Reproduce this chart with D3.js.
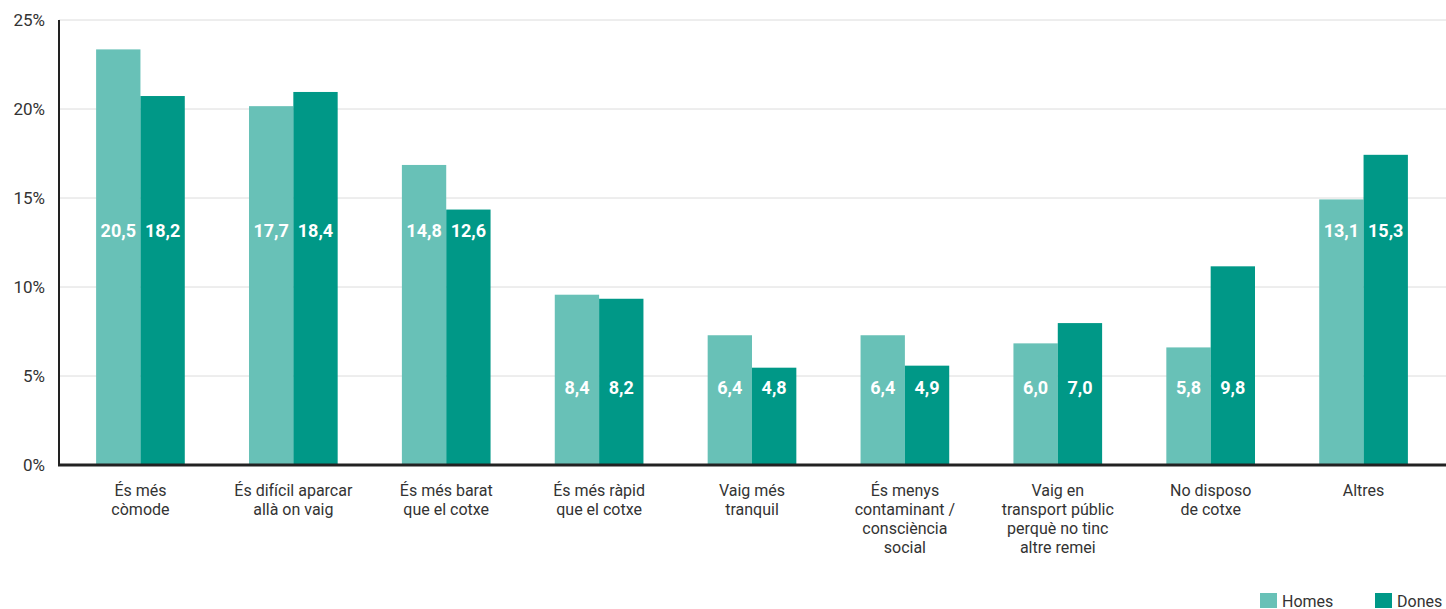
<!DOCTYPE html>
<html>
<head>
<meta charset="utf-8">
<script src="https://cdn.jsdelivr.net/npm/d3@7"></script>
<style>
  body { margin: 0; background: #fff; }
  svg text { font-family: Roboto, "DejaVu Sans", sans-serif; }
</style>
</head>
<body>
<div id="chart"></div>
<script>
// chart data
const categories = ['comode', 'aparcar', 'barat', 'rapid', 'tranquil', 'contaminant', 'transport', 'cotxe', 'altres']
const categoryLines = [
    ['És més', 'còmode'],
    ['És difícil aparcar', 'allà on vaig'],
    ['És més barat', 'que el cotxe'],
    ['És més ràpid', 'que el cotxe'],
    ['Vaig més', 'tranquil'],
    ['És menys', 'contaminant /', 'consciència', 'social'],
    ['Vaig en', 'transport públic', 'perquè no tinc', 'altre remei'],
    ['No disposo', 'de cotxe'],
    ['Altres']
]
const series = ['Homes', 'Dones']
const homes = [20.5, 17.7, 14.8, 8.4, 6.4, 6.4, 6.0, 5.8, 13.1]
const dones = [18.2, 18.4, 12.6, 8.2, 4.8, 4.9, 7.0, 9.8, 15.3]
const yTicks = [0, 5, 10, 15, 20, 25]
const colors = { Homes: '#68c1b7', Dones: '#009887' }

const chartW = 1446, chartH = 609
const plotLeft = 59, plotTop = 20, plotBottom = 465

const svg = d3.select('#chart').append('svg')
    .attr('width', chartW).attr('height', chartH)

// bars are drawn on the value scale, the axis uses its own scale (as in the original)
let y = d3.scaleLinear().domain([0, 21.95]).range([plotBottom, plotTop])
let yAxisScale = d3.scaleLinear().domain([0, 25]).range([plotBottom, plotTop])

let x = d3.scaleBand().domain(categories).range([64, 1440])
    .paddingInner(0.42).paddingOuter(0.21)
let xs = d3.scaleBand().domain(series).range([0, x.bandwidth()])

// gridlines
svg.append('g').selectAll('line')
    .data(yTicks.filter(d => d > 0))
    .enter().append('line')
    .attr('x1', plotLeft).attr('x2', chartW)
    .attr('y1', d => yAxisScale(d)).attr('y2', d => yAxisScale(d))
    .attr('stroke', '#dcdcdc').attr('stroke-width', 1)

// y tick labels
svg.append('g').selectAll('text')
    .data(yTicks)
    .enter().append('text')
    .attr('x', 45)
    .attr('y', d => yAxisScale(d) + 6)
    .attr('text-anchor', 'end')
    .attr('font-size', 17)
    .attr('fill', '#333')
    .text(d => d + '%')

// bars
let rows = categories.map((c, i) => ({ cat: c, i: i, vals: [
    { s: 'Homes', v: homes[i] }, { s: 'Dones', v: dones[i] }] }))

let groups = svg.append('g').selectAll('g.grp')
    .data(rows)
    .enter().append('g')
    .attr('class', 'grp')
    .attr('transform', d => 'translate(' + x(d.cat) + ',0)')

groups.selectAll('rect')
    .data(d => d.vals)
    .enter().append('rect')
    .attr('x', d => xs(d.s))
    .attr('y', d => y(d.v))
    .attr('width', xs.bandwidth())
    .attr('height', d => plotBottom - y(d.v))
    .attr('fill', d => colors[d.s])

// value labels: high position when both bars are tall, low otherwise
groups.each(function (d) {
    let minv = d3.min(d.vals, e => e.v)
    let ly = minv > 10 ? y(11.6) : y(3.85)
    d3.select(this).selectAll('text.val')
        .data(d.vals)
        .enter().append('text')
        .attr('class', 'val')
        .attr('x', e => xs(e.s) + xs.bandwidth() / 2)
        .attr('y', ly + 7)
        .attr('text-anchor', 'middle')
        .attr('font-size', 18)
        .attr('font-weight', 'bold')
        .attr('fill', '#fff')
        .text(e => e.v.toFixed(1).replace('.', ','))
})

// axes lines
svg.append('line')
    .attr('x1', plotLeft).attr('x2', plotLeft).attr('y1', plotTop).attr('y2', plotBottom)
    .attr('stroke', '#222').attr('stroke-width', 2)
svg.append('line')
    .attr('x1', plotLeft - 1).attr('x2', chartW).attr('y1', plotBottom).attr('y2', plotBottom)
    .attr('stroke', '#222').attr('stroke-width', 3)

// category labels
let catg = svg.append('g').selectAll('text')
    .data(categories)
    .enter().append('text')
    .attr('text-anchor', 'middle')
    .attr('font-size', 16)
    .attr('fill', '#333')
    .attr('transform', d => 'translate(' + (x(d) + x.bandwidth() / 2) + ',496)')
catg.selectAll('tspan')
    .data((d, i) => categoryLines[i])
    .enter().append('tspan')
    .attr('x', 0)
    .attr('y', (d, i) => i * 19)
    .text(d => d)

// legend
let legendPos = { Homes: 1260, Dones: 1375 }
let lg = svg.append('g').selectAll('g')
    .data(series)
    .enter().append('g')
    .attr('transform', d => 'translate(' + legendPos[d] + ',593)')
lg.append('rect')
    .attr('width', 17).attr('height', 15)
    .attr('fill', d => colors[d])
lg.append('text')
    .attr('x', 22).attr('y', 13.5)
    .attr('font-size', 16)
    .attr('fill', '#333')
    .text(d => d)
</script>
</body>
</html>
